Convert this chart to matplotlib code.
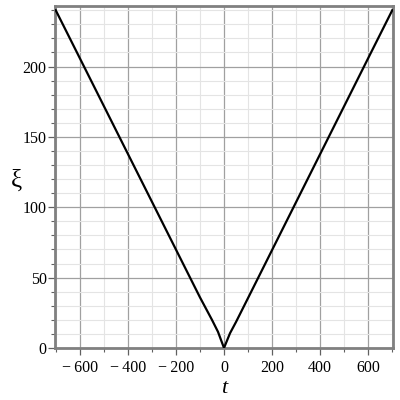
import numpy as np
import matplotlib
matplotlib.use("Agg")
import matplotlib.pyplot as plt
from matplotlib.ticker import MultipleLocator

# values
t_vals = [-700, -600, -500, -400, -300, -200, -100, -50, -25, 0,
          25, 50, 100, 200, 300, 400, 500, 600, 700]
xi_vals = [240, 206, 172, 138, 104, 70, 36, 20, 11.5, 0,
           10.5, 18.5, 35.5, 69.6, 103.7, 137.8, 171.9, 206, 240]

x_ticks = [-600, -400, -200, 0, 200, 400, 600]
y_ticks = [0, 50, 100, 150, 200]

plt.rcParams["font.family"] = ["Liberation Serif", "DejaVu Serif"]

fig = plt.figure(figsize=(4, 4), dpi=100)
ax = fig.add_axes([0.1375, 0.13, 0.845, 0.855])

ax.plot(t_vals, xi_vals, color="black", lw=1.6, zorder=3)

ax.set_xlim(-703, 703)
ax.set_ylim(0, 243)
ax.set_xticks(x_ticks)
ax.set_yticks(y_ticks)
ax.set_xticklabels([str(v).replace("-", "\u2212\u2009") for v in x_ticks])
ax.xaxis.set_minor_locator(MultipleLocator(100))
ax.yaxis.set_minor_locator(MultipleLocator(10))

ax.grid(which="major", color="#a0a0a0", lw=0.9)
ax.grid(which="minor", color="#e4e4e4", lw=0.8)
ax.set_axisbelow(True)

for s in ax.spines.values():
    s.set_color("#808080")
    s.set_linewidth(2)

ax.tick_params(which="major", direction="out", length=5, width=0.9,
               color="#606060", labelsize=11.5)
ax.tick_params(axis="y", which="major", pad=1)
ax.tick_params(which="minor", direction="out", length=3, width=0.8,
               color="#606060")

ax.set_xlabel("t", fontsize=16, style="italic", labelpad=2)
ax.set_ylabel("\u03be", fontsize=18, rotation=0, va="center")
ax.yaxis.set_label_coords(-0.115, 0.49)

fig.savefig("out.png", dpi=100)
